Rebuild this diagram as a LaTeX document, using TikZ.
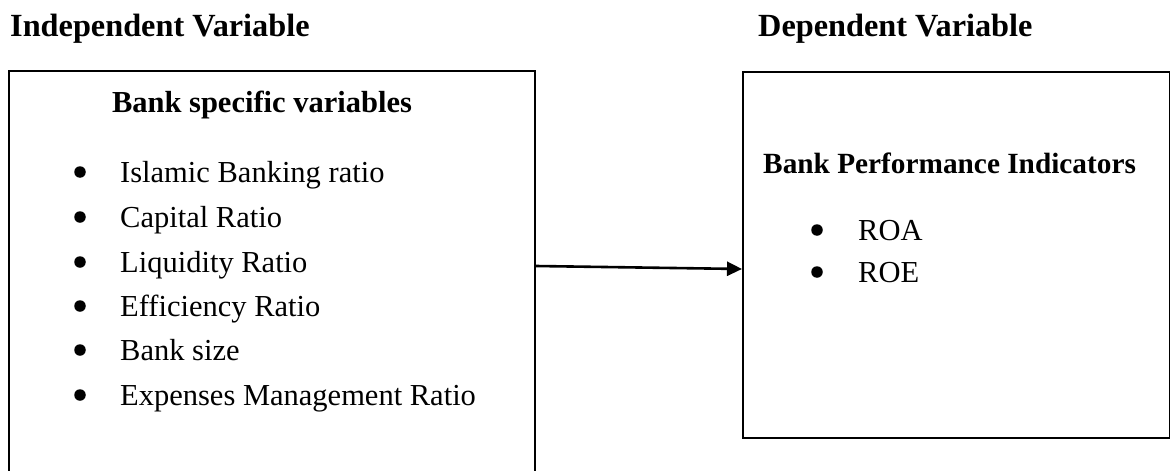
\documentclass[tikz,border=0pt]{standalone}
\usepackage{fontspec}
\setmainfont{Liberation Serif}
\usetikzlibrary{arrows.meta}

\begin{document}
\begin{tikzpicture}[x=1pt,y=-1pt,
    every node/.style={inner sep=0pt, font=\fontsize{30.5}{36}\selectfont},
    heading/.style={anchor=base west, font=\fontsize{30.5}{36}\selectfont\bfseries},
    listitem/.style={anchor=base west},
    dot/.style={circle, fill, minimum size=11.5},
    varbox/.style={draw, line width=2pt, anchor=north west}]
    \clip (0,0) rectangle (1170,471);

    \node[heading, font=\fontsize{32.3}{38}\selectfont\bfseries] (indep) at (10, 36) {Independent Variable};
    \node[heading, font=\fontsize{32.3}{38}\selectfont\bfseries] (dep) at (758, 36) {Dependent Variable};

    \node[varbox, minimum width=526, minimum height=420] (leftbox) at (8, 70) {}; % bank side
    \node[varbox, minimum width=427, minimum height=366] (rightbox) at (742, 71) {}; % performance side

    \node[heading, anchor=base] (banktitle) at (262, 112) {Bank specific variables};
    \node[dot] (d1) at (80, 172) {};
    \node[listitem] (islamic) at (120, 182) {Islamic Banking ratio};
    \node[dot] (d2) at (80, 217) {};
    \node[listitem] (capital) at (120, 227) {Capital Ratio};
    \node[dot] (d3) at (80, 262) {};
    \node[listitem] (liquidity) at (120, 272) {Liquidity Ratio};
    \node[dot] (d4) at (80, 306) {};
    \node[listitem] (efficiency) at (120, 316) {Efficiency Ratio};
    \node[dot] (d5) at (80, 350) {};
    \node[listitem] (banksize) at (120, 360) {Bank size};
    \node[dot] (d6) at (80, 395) {};
    \node[listitem] (expenses) at (120, 405) {Expenses Management Ratio};

    \node[heading, font=\fontsize{29.3}{35}\selectfont\bfseries] (perftitle) at (763, 173) {Bank Performance Indicators};
    \node[dot] (d7) at (817, 230) {};
    \node[listitem] (roa) at (858, 240) {ROA};
    \node[dot] (d8) at (817, 272) {};
    \node[listitem] (roe) at (858, 282) {ROE};

    \coordinate (tail) at (leftbox.east |- 0,266);
    \coordinate (head) at (rightbox.west |- 0,269);
    \draw[line width=2.6pt, -{Triangle[length=15pt,width=14pt]}] (tail) -- (head);
\end{tikzpicture}
\end{document}
